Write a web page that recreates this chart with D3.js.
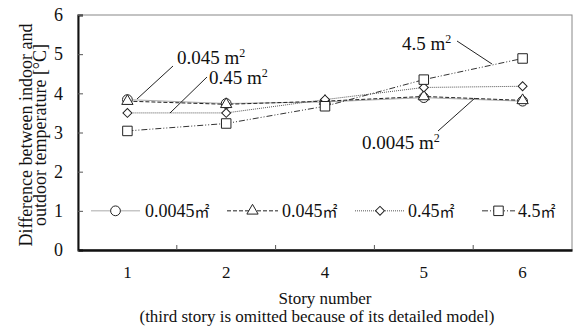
<!DOCTYPE html>
<html lang="en">
  <head>
    <meta charset="UTF-8">
    <title>Temperature difference by story</title>
    <script src="https://d3js.org/d3.v7.min.js"></script>
    <style>
      * { margin: 0; padding: 0; }
      body { background: white; }
      svg { display: block; }
      svg text { font-family: "Liberation Serif", "DejaVu Serif", serif; fill: #111; }
      svg text .m2 { font-family: "Noto Sans CJK JP", sans-serif; }
    </style>
  </head>
  <body>
    <script>
      // story numbers (3rd omitted)
      const stories = ['1', '2', '4', '5', '6']
      const yTicks = [0, 1, 2, 3, 4, 5, 6]

      const area0045 = [3.84, 3.74, 3.78, 3.89, 3.80]
      const area045  = [3.80, 3.72, 3.80, 3.92, 3.82]
      const area045b = [3.50, 3.50, 3.84, 4.15, 4.18]
      const area45   = [3.04, 3.23, 3.67, 4.35, 4.89]

      const seriesNames = ['0.0045', '0.045', '0.45', '4.5']

      const width = 574
      const height = 335
      const padL = 78, padR = 572, padT = 15, padB = 250

      const series = [
        { name: seriesNames[0], values: area0045, dash: null, stroke: '#aaa', sym: d3.symbolCircle, size: 75, rot: 0 },
        { name: seriesNames[1], values: area045, dash: '4,2', stroke: '#222', sym: d3.symbolTriangle, size: 55, rot: 0 },
        { name: seriesNames[2], values: area045b, dash: '1,1', stroke: '#555', sym: d3.symbolSquare, size: 40, rot: 45 },
        { name: seriesNames[3], values: area45, dash: '6,2,1,2,1,2', stroke: '#333', sym: d3.symbolSquare, size: 90, rot: 0 }
      ]

      const x = d3.scaleBand().domain(stories).range([padL, padR])
      const y = d3.scaleLinear().domain([0, 6]).range([padB, padT])

      const svg = d3.select('body').append('svg')
        .attr('width', width).attr('height', height)

      // frame
      svg.append('rect')
        .attr('x', padL).attr('y', padT)
        .attr('width', padR - padL).attr('height', padB - padT)
        .attr('fill', 'none').attr('stroke', '#888').attr('stroke-width', 1)

      // y axis
      const yAxis = svg.append('g')
        .attr('transform', 'translate(' + padL + ',0)')
        .call(d3.axisLeft(y).tickValues(yTicks).tickFormat(d3.format('d')).tickSize(-5).tickPadding(15))
      yAxis.attr('font-family', null)
      yAxis.select('.domain').attr('stroke', '#111').attr('stroke-width', 2)
      yAxis.selectAll('.tick line').attr('stroke', '#555')
      yAxis.selectAll('.tick text').style('font-size', '18px').attr('fill', '#111')

      // x axis: labels at band centres, ticks at band boundaries
      const xAxis = svg.append('g')
        .attr('transform', 'translate(0,' + padB + ')')
        .call(d3.axisBottom(x).tickSize(0).tickPadding(16))
      xAxis.attr('font-family', null)
      xAxis.select('.domain').attr('stroke', '#111').attr('stroke-width', 2.5)
      xAxis.selectAll('.tick text').style('font-size', '17px').attr('fill', '#111')
      svg.selectAll('.xb')
        .data(stories.slice(1))
        .enter().append('line')
        .attr('x1', d => x(d)).attr('x2', d => x(d))
        .attr('y1', padB).attr('y2', padB - 5)
        .attr('stroke', '#555')

      // lines and markers
      const line = d3.line()
        .x((d, i) => x(stories[i]) + x.bandwidth() / 2)
        .y(d => y(d))

      series.forEach(s => {
        svg.append('path')
          .datum(s.values)
          .attr('d', line)
          .attr('fill', 'none')
          .attr('stroke', s.stroke)
          .attr('stroke-width', 1)
          .attr('stroke-dasharray', s.dash)
      })
      series.forEach(s => {
        svg.selectAll(null)
          .data(s.values)
          .enter().append('path')
          .attr('d', d3.symbol().type(s.sym).size(s.size))
          .attr('transform', (d, i) => 'translate(' + (x(stories[i]) + x.bandwidth() / 2) + ',' + y(d) + ') rotate(' + s.rot + ')')
          .attr('fill', 'white').attr('stroke', '#222').attr('stroke-width', 1)
      })

      // callouts
      const callouts = [
        { label: '0.045', tx: 177, ty: 64, lx1: 137, ly1: 99, lx2: 173, ly2: 66 },
        { label: '0.45', tx: 209, ty: 84, lx1: 170, ly1: 113, lx2: 207, ly2: 77 },
        { label: '4.5', tx: 402, ty: 50, lx1: 457, ly1: 41, lx2: 492, ly2: 64 },
        { label: '0.0045', tx: 362, ty: 149, lx1: 438, ly1: 131, lx2: 475, ly2: 98 }
      ]
      callouts.forEach(c => {
        svg.append('line')
          .attr('x1', c.lx1).attr('y1', c.ly1).attr('x2', c.lx2).attr('y2', c.ly2)
          .attr('stroke', '#222').attr('stroke-width', 1)
        const t = svg.append('text').attr('x', c.tx).attr('y', c.ty).style('font-size', '19px')
        t.append('tspan').text(c.label + ' m')
        t.append('tspan').text('2').attr('dy', -7).style('font-size', '12px')
      })

      // legend at y = 1
      const legY = y(1)
      const legend = [
        { lx1: 91, lx2: 140, txt: 145 },
        { lx1: 227, lx2: 278, txt: 282 },
        { lx1: 355, lx2: 405, txt: 408 },
        { lx1: 482, lx2: 515, txt: 518 }
      ]
      legend.forEach((l, i) => {
        const s = series[i]
        svg.append('line')
          .attr('x1', l.lx1).attr('x2', l.lx2).attr('y1', legY).attr('y2', legY)
          .attr('stroke', s.stroke).attr('stroke-dasharray', s.dash)
        svg.append('path')
          .attr('d', d3.symbol().type(s.sym).size(s.size))
          .attr('transform', 'translate(' + ((l.lx1 + l.lx2) / 2) + ',' + legY + ') rotate(' + s.rot + ')')
          .attr('fill', 'white').attr('stroke', '#222')
        const t = svg.append('text').attr('x', l.txt).attr('y', legY + 6).style('font-size', '18px')
        t.append('tspan').text(s.name)
        t.append('tspan').attr('class', 'm2').style('font-size', '15px').text('㎡')
      })

      // axis titles
      const yt = svg.append('text')
        .attr('transform', 'translate(32,135) rotate(-90)')
        .attr('text-anchor', 'middle')
        .style('font-size', '18px')
      yt.append('tspan').attr('x', 0).attr('dy', 0).text('Difference between indoor and')
      yt.append('tspan').attr('x', 0).attr('dy', 14).text('outdoor temperature [°C]')

      svg.append('text')
        .attr('x', (padL + padR) / 2).attr('y', 304)
        .attr('text-anchor', 'middle').style('font-size', '17px')
        .text('Story number')
      svg.append('text')
        .attr('x', 317).attr('y', 322)
        .attr('text-anchor', 'middle').style('font-size', '17px')
        .text('(third story is omitted because of its detailed model)')
    </script>
  </body>
</html>
